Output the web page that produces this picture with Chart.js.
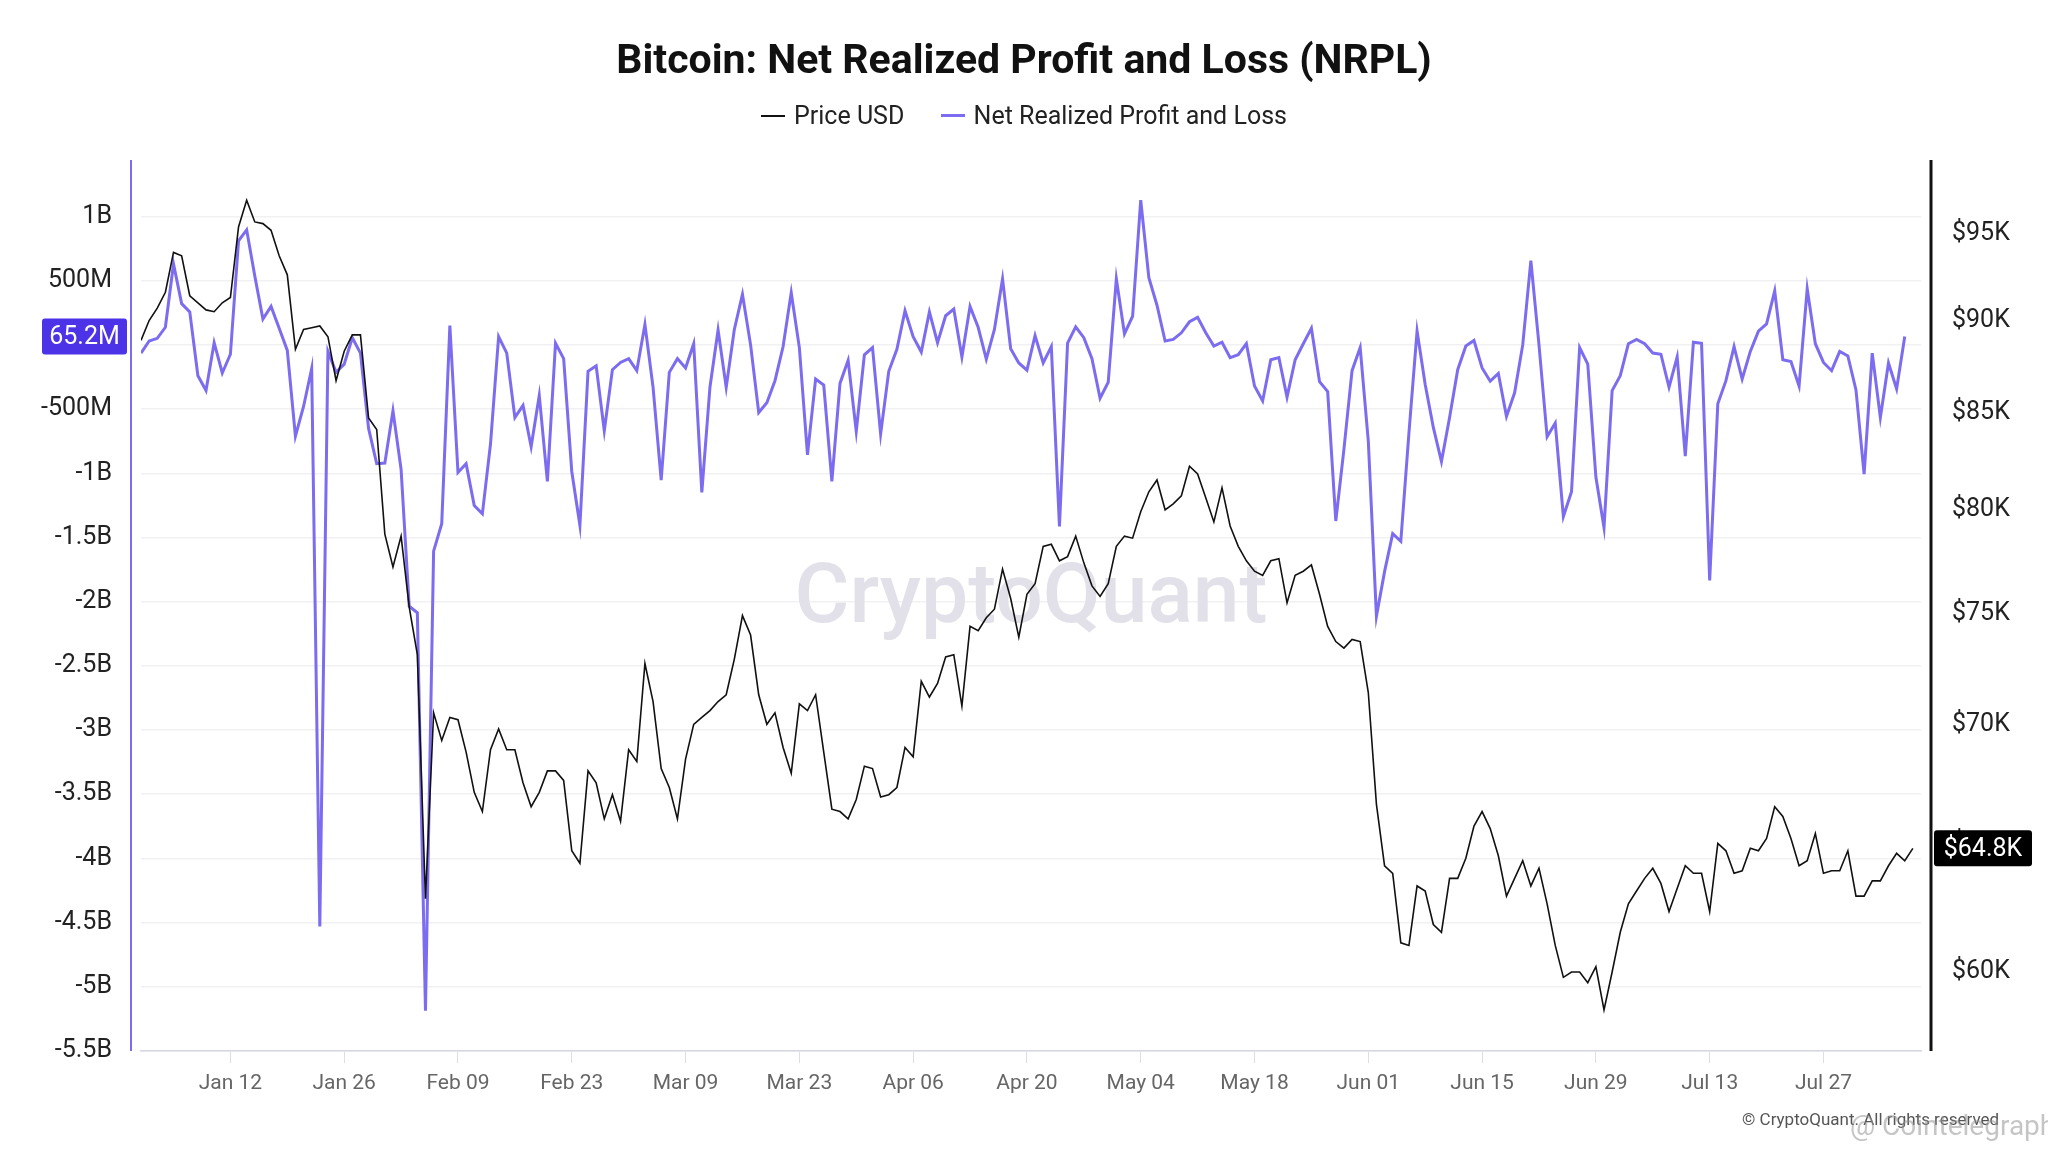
<!DOCTYPE html>
<html lang="en">
<head>
  <meta charset="UTF-8" />
  <title>Bitcoin: Net Realized Profit and Loss (NRPL)</title>
  <script src="https://cdn.jsdelivr.net/npm/chart.js"></script>
  <style>
    body {
      margin: 0;
      background: #fff;
      font-family: Roboto, sans-serif;
      color: #111;
    }
    .wrap {
      position: relative;
      width: 2048px;
      height: 1152px;
      overflow: hidden;
    }
    canvas {
      position: absolute;
      left: 0;
      top: 0;
    }
    h1 {
      position: absolute;
      top: 35px;
      left: 0;
      width: 100%;
      margin: 0;
      text-align: center;
      font-size: 41px;
      line-height: 48px;
      font-weight: 700;
    }
    #legend {
      position: absolute;
      top: 93px;
      left: 0;
      width: 100%;
      text-align: center;
      font-size: 25px;
      line-height: 32px;
      color: #222;
    }
    #legend .item {
      display: inline-flex;
      align-items: center;
      margin: 0 15px;
    }
    #legend .swatch {
      display: inline-block;
      width: 24px;
      margin-right: 9px;
    }
    .copy {
      position: absolute;
      left: 1742px;
      top: 1109px;
      font-size: 17px;
      color: #555;
      white-space: nowrap;
    }
    .tele {
      position: absolute;
      left: 1850px;
      top: 1108px;
      font-size: 28px;
      line-height: 36px;
      color: rgba(150, 150, 150, 0.55);
      white-space: nowrap;
    }
  </style>
</head>
<body>
  <div class="wrap">
    <canvas id="chart" width="2048" height="1152"></canvas>
    <h1>Bitcoin: Net Realized Profit and Loss (NRPL)</h1>
    <div id="legend">
      <span class="item"><i class="swatch" style="height:2px;background:#111"></i>Price USD</span>
      <span class="item"><i class="swatch" style="height:3px;background:#7b6cf0"></i>Net Realized Profit and Loss</span>
    </div>
    <div class="copy">© CryptoQuant. All rights reserved</div>
    <div class="tele">@ Cointelegraph</div>
  </div>

  <script>
    // daily values from Jan 01, one per day
    const priceUsdK = [
      88.9, 90.0, 90.7, 91.6, 93.9, 93.7, 91.4, 91.0, 90.6, 90.5,
      91.0, 91.3, 95.4, 97.0, 95.7, 95.6, 95.2, 93.7, 92.6, 88.4,
      89.5, 89.6, 89.7, 89.1, 86.7, 88.3, 89.2, 89.2, 84.7, 84.1,
      78.8, 77.2, 78.7, 75.3, 73.1, 62.8, 70.5, 69.3, 70.3, 70.2,
      68.8, 67.1, 66.3, 68.9, 69.8, 68.9, 68.9, 67.5, 66.5, 67.1,
      68.0, 68.0, 67.6, 64.7, 64.2, 68.0, 67.5, 66.0, 67.0, 65.9,
      68.9, 68.4, 72.7, 71.0, 68.1, 67.3, 66.0, 68.5, 70.0, 70.3,
      70.6, 71.0, 71.3, 72.9, 74.9, 74.0, 71.3, 70.0, 70.5, 69.0,
      67.9, 70.9, 70.6, 71.3, 68.8, 66.4, 66.3, 66.0, 66.8, 68.2,
      68.1, 66.9, 67.0, 67.3, 69.0, 68.6, 71.9, 71.2, 71.8, 73.0,
      73.1, 70.8, 74.4, 74.2, 74.8, 75.2, 77.1, 75.7, 73.9, 75.9,
      76.4, 78.2, 78.3, 77.5, 77.7, 78.7, 77.4, 76.3, 75.8, 76.4,
      78.2, 78.7, 78.6, 79.9, 80.9, 81.5, 80.0, 80.3, 80.7, 82.2,
      81.8, 80.6, 79.4, 81.1, 79.2, 78.2, 77.5, 77.0, 76.8, 77.5,
      77.6, 75.5, 76.8, 77.0, 77.3, 75.9, 74.4, 73.7, 73.4, 73.8,
      73.7, 71.4, 66.6, 64.1, 63.8, 61.1, 61.0, 63.3, 63.1, 61.8,
      61.5, 63.6, 63.6, 64.4, 65.7, 66.3, 65.6, 64.5, 62.9, 63.6,
      64.3, 63.3, 64.0, 62.6, 61.0, 59.8, 60.0, 60.0, 59.6, 60.2,
      58.6, 60.0, 61.5, 62.6, 63.1, 63.6, 64.0, 63.4, 62.3, 63.2,
      64.1, 63.8, 63.8, 62.3, 65.0, 64.7, 63.8, 63.9, 64.8, 64.7,
      65.2, 66.5, 66.1, 65.2, 64.1, 64.3, 65.4, 63.8, 63.9, 63.9,
      64.7, 62.9, 62.9, 63.5, 63.5, 64.1, 64.6, 64.3, 64.8
    ];

    const nrplB = [
      -0.064, 0.030, 0.051, 0.137, 0.630, 0.321, 0.257, -0.240, -0.356, 0.017,
      -0.219, -0.073, 0.810, 0.896, 0.536, 0.201, 0.300, 0.129, -0.043, -0.711,
      -0.480, -0.184, -4.530, -0.051, -0.214, -0.150, 0.056, -0.064, -0.651, -0.926,
      -0.921, -0.514, -0.970, -2.036, -2.087, -5.186, -1.607, -1.393, 0.150, -0.994,
      -0.926, -1.252, -1.316, -0.772, 0.064, -0.064, -0.566, -0.471, -0.793, -0.394,
      -1.063, 0.013, -0.107, -0.986, -1.406, -0.206, -0.163, -0.669, -0.193, -0.137,
      -0.107, -0.201, 0.159, -0.330, -1.054, -0.214, -0.107, -0.180, 0.009, -1.149,
      -0.330, 0.116, -0.330, 0.120, 0.394, 0.000, -0.527, -0.450, -0.279, -0.013,
      0.407, -0.021, -0.857, -0.266, -0.313, -1.063, -0.300, -0.120, -0.673, -0.077,
      -0.021, -0.694, -0.206, -0.034, 0.266, 0.064, -0.056, 0.257, 0.017, 0.227,
      0.279, -0.094, 0.300, 0.137, -0.111, 0.120, 0.514, -0.030, -0.141, -0.197,
      0.073, -0.141, -0.013, -1.414, 0.013, 0.141, 0.056, -0.107, -0.416, -0.291,
      0.514, 0.086, 0.223, 1.127, 0.523, 0.309, 0.030, 0.043, 0.094, 0.180,
      0.214, 0.094, -0.009, 0.021, -0.099, -0.077, 0.009, -0.321, -0.437, -0.116,
      -0.099, -0.407, -0.116, 0.009, 0.129, -0.287, -0.364, -1.372, -0.814, -0.201,
      -0.021, -0.750, -2.113, -1.766, -1.470, -1.530, -0.686, 0.107, -0.309, -0.643,
      -0.909, -0.566, -0.193, -0.009, 0.034, -0.180, -0.283, -0.223, -0.557, -0.373,
      0.000, 0.656, 0.000, -0.716, -0.609, -1.337, -1.144, -0.021, -0.150, -1.029,
      -1.423, -0.356, -0.240, 0.009, 0.043, 0.009, -0.064, -0.073, -0.330, -0.094,
      -0.866, 0.021, 0.013, -1.834, -0.459, -0.279, -0.013, -0.266, -0.051, 0.107,
      0.163, 0.420, -0.116, -0.129, -0.321, 0.437, 0.009, -0.137, -0.201, -0.051,
      -0.086, -0.351, -1.007, -0.064, -0.566, -0.141, -0.343, 0.0652
    ];

    const xTickDays = [11, 25, 39, 53, 67, 81, 95, 109, 123, 137, 151, 165, 179, 193, 207];
    const xTickLabels = ['Jan 12', 'Jan 26', 'Feb 09', 'Feb 23', 'Mar 09', 'Mar 23', 'Apr 06',
      'Apr 20', 'May 04', 'May 18', 'Jun 01', 'Jun 15', 'Jun 29', 'Jul 13', 'Jul 27'];
    const nrplTicks = [1, 0.5, 0, -0.5, -1, -1.5, -2, -2.5, -3, -3.5, -4, -4.5, -5, -5.5];
    const priceTicks = [60, 65, 70, 75, 80, 85, 90, 95];

    const purple = '#7b6cf0';

    function fmtNrpl(b) {
      if (b === 0) return '0';
      if (Math.abs(b) >= 1) return +b.toFixed(2) + 'B';
      return +(b * 1000).toFixed(1) + 'M';
    }

    function badge(ctx, text, x1, x2, yc, color) {
      const h = 36;
      ctx.fillStyle = color;
      ctx.beginPath();
      ctx.roundRect(x1, yc - h / 2, x2 - x1, h, 3);
      ctx.fill();
      ctx.fillStyle = '#fff';
      ctx.font = '25px Roboto';
      ctx.textAlign = 'center';
      ctx.textBaseline = 'middle';
      ctx.fillText(text, (x1 + x2) / 2, yc + 1);
    }

    const extras = {
      id: 'extras',
      beforeDatasetsDraw(chart) {
        const { ctx, chartArea: a } = chart;
        ctx.save();
        ctx.font = '500 84px Roboto';
        ctx.fillStyle = '#e2e1e9';
        ctx.textAlign = 'center';
        ctx.textBaseline = 'middle';
        ctx.fillText('CryptoQuant', (a.left + a.right) / 2, (a.top + a.bottom) / 2 - 5);
        ctx.restore();
      },
      afterDraw(chart) {
        const { ctx, chartArea: a, scales } = chart;
        ctx.save();
        // axis lines sit a little outside the plot area
        ctx.lineWidth = 2;
        ctx.strokeStyle = purple;
        ctx.beginPath();
        ctx.moveTo(a.left - 10, a.top);
        ctx.lineTo(a.left - 10, a.bottom);
        ctx.stroke();
        ctx.lineWidth = 3;
        ctx.strokeStyle = '#111';
        ctx.beginPath();
        ctx.moveTo(a.right + 10, a.top);
        ctx.lineTo(a.right + 10, a.bottom);
        ctx.stroke();

        const lastN = nrplB[nrplB.length - 1];
        badge(ctx, fmtNrpl(lastN), a.left - 99, a.left - 14, scales.y.getPixelForValue(lastN), '#4c33e8');
        const lastP = priceUsdK[priceUsdK.length - 1];
        badge(ctx, '$' + lastP.toFixed(1) + 'K', a.right + 13, a.right + 111, scales.y1.getPixelForValue(lastP), '#000');
        ctx.restore();
      }
    };

    Chart.defaults.font.family = 'Roboto';

    new Chart(document.getElementById('chart'), {
      type: 'line',
      data: {
        datasets: [
          {
            label: 'Price USD',
            data: priceUsdK.map((v, i) => ({ x: i, y: v })),
            yAxisID: 'y1',
            borderColor: '#111',
            borderWidth: 1.6,
            pointRadius: 0,
            tension: 0
          },
          {
            label: 'Net Realized Profit and Loss',
            data: nrplB.map((v, i) => ({ x: i, y: v })),
            yAxisID: 'y',
            borderColor: purple,
            borderWidth: 3,
            pointRadius: 0,
            tension: 0
          }
        ]
      },
      options: {
        responsive: false,
        animation: false,
        layout: { padding: { top: 160 } },
        plugins: {
          legend: { display: false },
          title: { display: false },
          tooltip: { enabled: false }
        },
        scales: {
          x: {
            type: 'linear',
            min: 0,
            max: 219,
            afterBuildTicks: s => { s.ticks = xTickDays.map(v => ({ value: v })); },
            afterFit: s => { s.height = 101; },
            ticks: {
              autoSkip: false,
              maxRotation: 0,
              padding: 8,
              color: '#666',
              font: { size: 21 },
              callback: v => xTickLabels[xTickDays.indexOf(v)]
            },
            grid: { drawOnChartArea: false, tickLength: 12, color: '#dcdfe8' },
            border: { color: '#d5d8e2', width: 1.5 }
          },
          y: {
            position: 'left',
            min: -5.5,
            max: 1.44,
            afterBuildTicks: s => { s.ticks = nrplTicks.map(v => ({ value: v })); },
            afterFit: s => { s.width = 141; },
            ticks: {
              padding: 29,
              color: '#222',
              font: { size: 25 },
              callback: v => fmtNrpl(v)
            },
            grid: { drawTicks: false, color: '#f1f1f3', lineWidth: 1.5 },
            border: { display: false }
          },
          y1: {
            type: 'logarithmic',
            position: 'right',
            min: 57.12,
            max: 99.46,
            afterBuildTicks: s => { s.ticks = priceTicks.map(v => ({ value: v })); },
            afterFit: s => { s.width = 127; },
            ticks: {
              padding: 31,
              color: '#222',
              font: { size: 25 },
              callback: v => '$' + v + 'K'
            },
            grid: { display: false, drawTicks: false },
            border: { display: false }
          }
        }
      },
      plugins: [extras]
    });
  </script>
</body>
</html>
